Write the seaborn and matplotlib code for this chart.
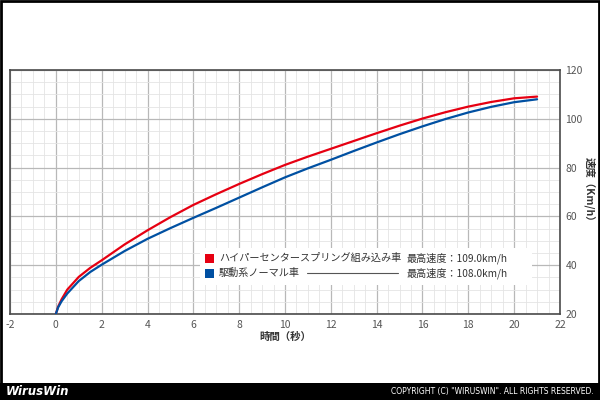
import numpy as np
import pandas as pd
import seaborn as sns
import matplotlib
matplotlib.use("Agg")
import matplotlib.pyplot as plt
from matplotlib.ticker import MultipleLocator
from matplotlib.patches import Rectangle
from matplotlib.lines import Line2D

# ---- data ----
time_s = [0, 0.1, 0.25, 0.5, 1, 1.5, 2, 3, 4, 5, 6, 7, 8, 9, 10, 11, 12, 13, 14, 15, 16, 17, 18, 19, 20, 21]
speed_hyper = [20, 23.0, 26.0, 30.0, 35.2, 38.9, 42.0, 48.5, 54.3, 59.7, 64.7, 69.1, 73.3, 77.3, 81.1,
               84.5, 87.7, 90.9, 94.1, 97.2, 100.1, 102.7, 105.0, 106.9, 108.4, 109.1]
speed_normal = [20, 22.7, 25.2, 28.4, 33.5, 37.2, 40.2, 45.8, 50.8, 55.2, 59.4, 63.5, 67.7, 71.9, 76.0,
                79.7, 83.2, 86.8, 90.3, 93.7, 96.9, 99.9, 102.6, 104.9, 106.8, 108.0]
series_names = ["ハイパーセンタースプリング組み込み車", "駆動系ノーマル車"]
max_speed_labels = ["最高速度：109.0km/h", "最高速度：108.0km/h"]
x_ticks = [-2, 0, 2, 4, 6, 8, 10, 12, 14, 16, 18, 20, 22]
y_ticks = [20, 40, 60, 80, 100, 120]
x_label = "時間（秒）"
y_label = "速度（Km/h）"
colors = ["#e60012", "#0050a2"]

df = pd.DataFrame({
    "time": time_s * 2,
    "speed": speed_hyper + speed_normal,
    "series": [series_names[0]] * len(time_s) + [series_names[1]] * len(time_s),
})

sns.set_style("white")
plt.rcParams["font.family"] = ["Noto Sans CJK JP", "DejaVu Sans"]
plt.rcParams["axes.unicode_minus"] = False

fig = plt.figure(figsize=(6, 4), dpi=100)
fig.patch.set_facecolor("white")
ax = fig.add_axes([10 / 600, (400 - 314) / 400, 550 / 600, 244 / 400])

sns.lineplot(data=df, x="time", y="speed", hue="series", palette=colors,
             linewidth=1.6, ax=ax, legend=False, zorder=3)

ax.set_xlim(-2, 22)
ax.set_ylim(20, 120)
ax.set_xticks(x_ticks)
ax.set_yticks(y_ticks)
ax.xaxis.set_minor_locator(MultipleLocator(0.5))
ax.yaxis.set_minor_locator(MultipleLocator(5))
ax.grid(which="major", color="#b8b8b8", linewidth=0.9)
ax.grid(which="minor", color="#e4e4e4", linewidth=0.6)
ax.set_axisbelow(True)
for s in ax.spines.values():
    s.set_color("#4a4a4a")
    s.set_linewidth(1.2)
    s.set_visible(True)

ax.yaxis.tick_right()
ax.yaxis.set_label_position("right")
ax.tick_params(which="both", length=0, labelsize=7.5, labelcolor="#555555")
ax.tick_params(axis="x", pad=4)
ax.tick_params(axis="y", pad=4)
ax.set_xlabel(x_label, fontsize=7.5, color="#333333", fontweight="bold", labelpad=2)
ax.set_ylabel(y_label, fontsize=7.5, color="#333333", fontweight="bold", rotation=270, labelpad=9)

# ---- legend box ----
def ax_x(px):
    return (px - 10) / 550

def ax_y(py):
    return (314 - py) / 244

ax.add_patch(Rectangle((ax_x(200), ax_y(285)), ax_x(532) - ax_x(200), ax_y(248) - ax_y(285),
                       transform=ax.transAxes, facecolor="white", edgecolor="none", zorder=4))
rows_py = [258, 273]
for i in range(2):
    py = rows_py[i]
    ax.add_patch(Rectangle((ax_x(205), ax_y(py + 4.5)), ax_x(214) - ax_x(205), ax_y(py - 4.5) - ax_y(py + 4.5),
                           transform=ax.transAxes, facecolor=colors[i], edgecolor="none", zorder=5))
    ax.text(ax_x(219), ax_y(py), series_names[i], transform=ax.transAxes, fontsize=7.3,
            color="#333333", va="center", ha="left", zorder=6)
    ax.text(ax_x(407), ax_y(py), max_speed_labels[i], transform=ax.transAxes, fontsize=7.3,
            color="#333333", va="center", ha="left", zorder=6)
ax.add_line(Line2D([ax_x(307), ax_x(398)], [ax_y(273), ax_y(273)], transform=ax.transAxes,
                   color="#555555", linewidth=0.8, zorder=6))

# ---- frame and footer ----
fig.add_artist(Rectangle((0, 0), 1, 17 / 400, transform=fig.transFigure,
                         facecolor="black", edgecolor="none"))
fig.add_artist(Rectangle((0.001, 0.001), 0.998, 0.997, transform=fig.transFigure,
                         facecolor="none", edgecolor="black", linewidth=2))
fig.text(6 / 600, 8.5 / 400, "WirusWin", color="white", fontsize=8.5, fontweight="bold",
         fontstyle="italic", family="DejaVu Sans", va="center", ha="left")
fig.text(594 / 600, 8.5 / 400, "COPYRIGHT (C) \"WIRUSWIN\". ALL RIGHTS RESERVED.", color="white",
         fontsize=5.5, family="DejaVu Sans", va="center", ha="right")

fig.savefig("out.png", dpi=100, facecolor="white")
